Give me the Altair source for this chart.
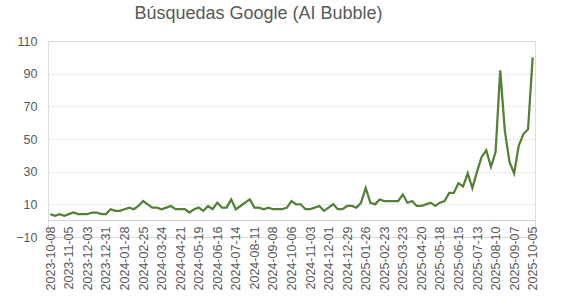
import altair as alt
import pandas as pd

start_date = "2023-10-08"
n_weeks = 105
values = [4, 3, 4, 3, 4, 5, 4, 4, 4, 5,
          5, 4, 4, 7, 6, 6, 7, 8, 7, 9,
          12, 10, 8, 8, 7, 8, 9, 7, 7, 7,
          5, 7, 8, 6, 9, 7, 11, 8, 8, 13,
          7, 9, 11, 13, 8, 8, 7, 8, 7, 7,
          7, 8, 12, 10, 10, 7, 7, 8, 9, 6,
          8, 10, 7, 7, 9, 9, 8, 11, 20, 11,
          10, 13, 12, 12, 12, 12, 16, 11, 12, 9,
          9, 10, 11, 9, 11, 12, 17, 17, 23, 21,
          29, 20, 30, 39, 43, 33, 42, 92, 55, 36,
          29, 46, 53, 56, 100]
tick_labels = ["2023-10-08", "2023-11-05", "2023-12-03", "2023-12-31", "2024-01-28",
               "2024-02-25", "2024-03-24", "2024-04-21", "2024-05-19", "2024-06-16",
               "2024-07-14", "2024-08-11", "2024-09-08", "2024-10-06", "2024-11-03",
               "2024-12-01", "2024-12-29", "2025-01-26", "2025-02-23", "2025-03-23",
               "2025-04-20", "2025-05-18", "2025-06-15", "2025-07-13", "2025-08-10",
               "2025-09-07", "2025-10-05"]
y_ticks = [-10, 10, 30, 50, 70, 90, 110]

dates = pd.date_range(start_date, periods=n_weeks, freq="7D").strftime("%Y-%m-%d").tolist()
df = pd.DataFrame({"fecha": dates, "valor": values})

FONT = "Liberation Sans"
GREY = "#595959"

y_scale = alt.Scale(domain=[-10, 110], nice=False, zero=False)
y_axis = alt.Axis(values=y_ticks, labelFontSize=12.5, labelColor=GREY,
                  labelFont=FONT, domain=False, ticks=False, title=None,
                  gridColor="#d9d9d9", gridDash=[2, 2], gridWidth=1,
                  gridOpacity={"condition": {"test": "datum.value === -10", "value": 0},
                               "value": 1},
                  labelPadding=11, labelOverlap=False)
x_enc = alt.X("fecha:O", sort=None,
              scale=alt.Scale(type="point", padding=0.5),
              axis=alt.Axis(values=tick_labels, labelAngle=270, labelFontSize=12.5,
                            labelColor=GREY, labelFont=FONT, domain=False, ticks=False,
                            grid=False, title=None, labelPadding=-11,
                            labelOverlap=False))

zero_df = pd.DataFrame({"fecha": [dates[0]], "z": [0]})

zero = alt.Chart(zero_df).mark_rule(color="#d0d0d0", strokeWidth=1).encode(
    y=alt.Y("z:Q", scale=y_scale, axis=y_axis)
)

line = alt.Chart(df).mark_line(color="#538135", strokeWidth=2.25).encode(
    x=x_enc,
    y=alt.Y("valor:Q", scale=y_scale, axis=y_axis),
)

chart = alt.layer(zero, line).properties(
    width=487, height=196,
    title=alt.TitleParams("Búsquedas Google (AI Bubble)", fontSize=18, font=FONT,
                          color=GREY, fontWeight="normal", anchor="middle", dx=-33,
                          offset=12),
    padding={"left": 48, "top": 41, "right": 28, "bottom": 63},
    autosize=alt.AutoSizeParams(type="none"),
).configure_view(stroke=None).configure(background="white")

chart.save("out.html", embed_options={"renderer": "svg", "actions": False})
